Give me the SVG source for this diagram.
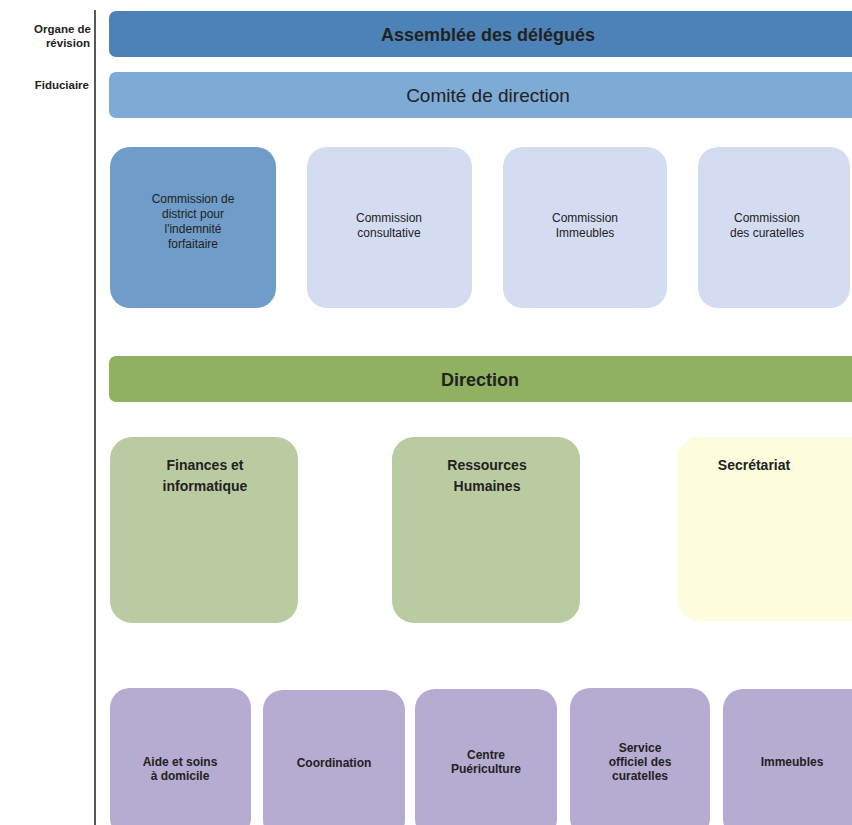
<svg xmlns="http://www.w3.org/2000/svg" width="852" height="825" viewBox="0 0 852 825">
<style>
text{font-family:"Liberation Sans",Arial,sans-serif;fill:#222;text-anchor:middle}
.side{font-size:11.5px;font-weight:bold;text-anchor:end}
.bar{font-size:18px;font-weight:bold}
.com{font-size:12px}
.dep{font-size:14px;font-weight:bold}
.svc{font-size:12px;font-weight:bold}
.assem{fill:#4d82b8}
.comite{fill:#7eaad6}
.cdark{fill:#6f9cc8}
.clight{fill:#d4dcf1}
.dir{fill:#8fb160}
.green{fill:#bbcba1}
.yellow{fill:#fdfcdd}
.purple{fill:#b6abd0}
</style>
<rect width="852" height="825" fill="#fff"/>
<g id="connectors">
<line x1="95" y1="10" x2="95" y2="825" stroke="#222" stroke-width="1.5"/>
</g>
<g id="side-labels">
<text class="side" x="91" y="33">Organe de</text>
<text class="side" x="90" y="47">révision</text>
<text class="side" x="89" y="89">Fiduciaire</text>
</g>
<g id="assemblee">
<rect class="assem" x="109" y="11" width="760" height="46" rx="7"/>
<text class="bar" x="488" y="41">Assemblée des délégués</text>
</g>
<g id="comite">
<rect class="comite" x="109" y="72" width="760" height="46" rx="7"/>
<text class="bar" x="488" y="102" style="font-weight:normal;font-size:19px">Comité de direction</text>
</g>
<g id="commission-district">
<rect class="cdark" x="110" y="147" width="166" height="161" rx="20"/>
<text class="com" x="193" y="203">Commission de</text>
<text class="com" x="193" y="218">district pour</text>
<text class="com" x="193" y="233">l'indemnité</text>
<text class="com" x="193" y="248">forfaitaire</text>
</g>
<g id="commission-consultative">
<rect class="clight" x="307" y="147" width="165" height="161" rx="20"/>
<text class="com" x="389" y="222">Commission</text>
<text class="com" x="389" y="237">consultative</text>
</g>
<g id="commission-immeubles">
<rect class="clight" x="503" y="147" width="164" height="161" rx="20"/>
<text class="com" x="585" y="222">Commission</text>
<text class="com" x="585" y="237">Immeubles</text>
</g>
<g id="commission-curatelles">
<rect class="clight" x="698" y="147" width="152" height="161" rx="20"/>
<text class="com" x="767" y="222">Commission</text>
<text class="com" x="767" y="237">des curatelles</text>
</g>
<g id="direction">
<rect class="dir" x="109" y="356" width="760" height="46" rx="7"/>
<text class="bar" x="480" y="386">Direction</text>
</g>
<g id="finances">
<rect class="green" x="110" y="437" width="188" height="186" rx="22"/>
<text class="dep" x="205" y="470">Finances et</text>
<text class="dep" x="205" y="491">informatique</text>
</g>
<g id="ressources">
<rect class="green" x="392" y="437" width="188" height="186" rx="22"/>
<text class="dep" x="487" y="470">Ressources</text>
<text class="dep" x="487" y="491">Humaines</text>
</g>
<g id="secretariat">
<rect class="yellow" x="677" y="437" width="200" height="184" rx="22"/>
<text class="dep" x="754" y="470">Secrétariat</text>
</g>
<g id="aide">
<rect class="purple" x="110" y="688" width="141" height="150" rx="20"/>
<text class="svc" x="180" y="766">Aide et soins</text>
<text class="svc" x="180" y="780">à domicile</text>
</g>
<g id="coordination">
<rect class="purple" x="263" y="690" width="142" height="150" rx="20"/>
<text class="svc" x="334" y="767">Coordination</text>
</g>
<g id="puericulture">
<rect class="purple" x="415" y="689" width="142" height="150" rx="20"/>
<text class="svc" x="486" y="759">Centre</text>
<text class="svc" x="486" y="773">Puériculture</text>
</g>
<g id="service-curatelles">
<rect class="purple" x="570" y="688" width="140" height="150" rx="20"/>
<text class="svc" x="640" y="752">Service</text>
<text class="svc" x="640" y="766">officiel des</text>
<text class="svc" x="640" y="780">curatelles</text>
</g>
<g id="immeubles">
<rect class="purple" x="723" y="689" width="150" height="150" rx="20"/>
<text class="svc" x="792" y="766">Immeubles</text>
</g>
</svg>
